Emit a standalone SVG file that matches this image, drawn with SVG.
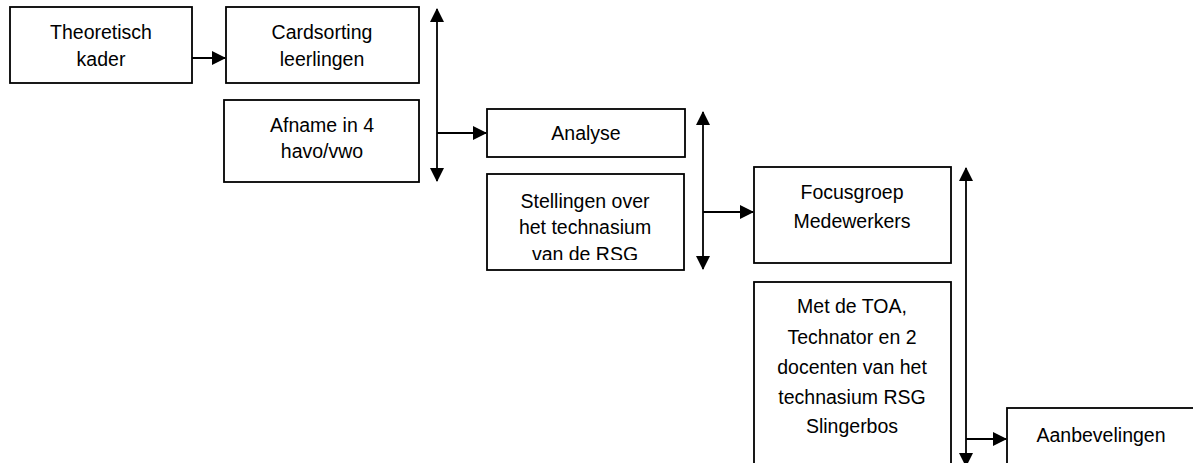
<svg xmlns="http://www.w3.org/2000/svg" width="1193" height="463" viewBox="0 0 1193 463">
<style>
.box{fill:#fff;stroke:#000;stroke-width:1.8}
.lbl{font-family:"Liberation Sans",Arial,sans-serif;font-size:19.5px;fill:#000;text-anchor:middle}
.con{stroke:#000;stroke-width:1.8;fill:none}
</style>
<defs>
<marker id="ah" viewBox="0 0 14 14" refX="13" refY="7" markerWidth="14" markerHeight="14" markerUnits="userSpaceOnUse" orient="auto-start-reverse">
<path d="M0,0 L14,7 L0,14 z" fill="#000"/>
</marker>
<clipPath id="clipSt"><rect x="487" y="174" width="197" height="86"/></clipPath>
</defs>
<rect width="1193" height="463" fill="#fff"/>
<g id="theoretisch">
<rect class="box" x="10" y="7" width="182" height="76"/>
<text class="lbl" x="101" y="39">Theoretisch</text>
<text class="lbl" x="101" y="66">kader</text>
</g>
<g id="cardsorting">
<rect class="box" x="226" y="7" width="193" height="76"/>
<text class="lbl" x="322" y="39">Cardsorting</text>
<text class="lbl" x="322" y="66">leerlingen</text>
</g>
<g id="afname">
<rect class="box" x="224" y="100" width="195" height="82"/>
<text class="lbl" x="322" y="132">Afname in 4</text>
<text class="lbl" x="322" y="158">havo/vwo</text>
</g>
<g id="analyse">
<rect class="box" x="487" y="109" width="198" height="48"/>
<text class="lbl" x="586" y="140">Analyse</text>
</g>
<g id="stellingen">
<rect class="box" x="487" y="174" width="197" height="96"/>
<g clip-path="url(#clipSt)">
<text class="lbl" x="585" y="208">Stellingen over</text>
<text class="lbl" x="585" y="234">het technasium</text>
<text class="lbl" x="585" y="261">van de RSG</text>
</g>
</g>
<g id="focusgroep">
<rect class="box" x="754" y="167" width="197" height="96"/>
<text class="lbl" x="852" y="199">Focusgroep</text>
<text class="lbl" x="852" y="228">Medewerkers</text>
</g>
<g id="metdetoa">
<rect class="box" x="754" y="282" width="197" height="200"/>
<text class="lbl" x="852" y="313">Met de TOA,</text>
<text class="lbl" x="852" y="344">Technator en 2</text>
<text class="lbl" x="852" y="374">docenten van het</text>
<text class="lbl" x="852" y="404">technasium RSG</text>
<text class="lbl" x="852" y="433">Slingerbos</text>
</g>
<g id="aanbevelingen">
<rect class="box" x="1007" y="408" width="190" height="80"/>
<text class="lbl" x="1101" y="442">Aanbevelingen</text>
</g>
<g id="connectors">
<line class="con" x1="192" y1="58" x2="225" y2="58" marker-end="url(#ah)"/>
<line class="con" x1="437" y1="9" x2="437" y2="181" marker-start="url(#ah)" marker-end="url(#ah)"/>
<line class="con" x1="437" y1="133" x2="486" y2="133" marker-end="url(#ah)"/>
<line class="con" x1="703" y1="112" x2="703" y2="269" marker-start="url(#ah)" marker-end="url(#ah)"/>
<line class="con" x1="703" y1="212" x2="753" y2="212" marker-end="url(#ah)"/>
<line class="con" x1="966" y1="168" x2="966" y2="466" marker-start="url(#ah)" marker-end="url(#ah)"/>
<line class="con" x1="966" y1="439" x2="1006" y2="439" marker-end="url(#ah)"/>
</g>
</svg>
